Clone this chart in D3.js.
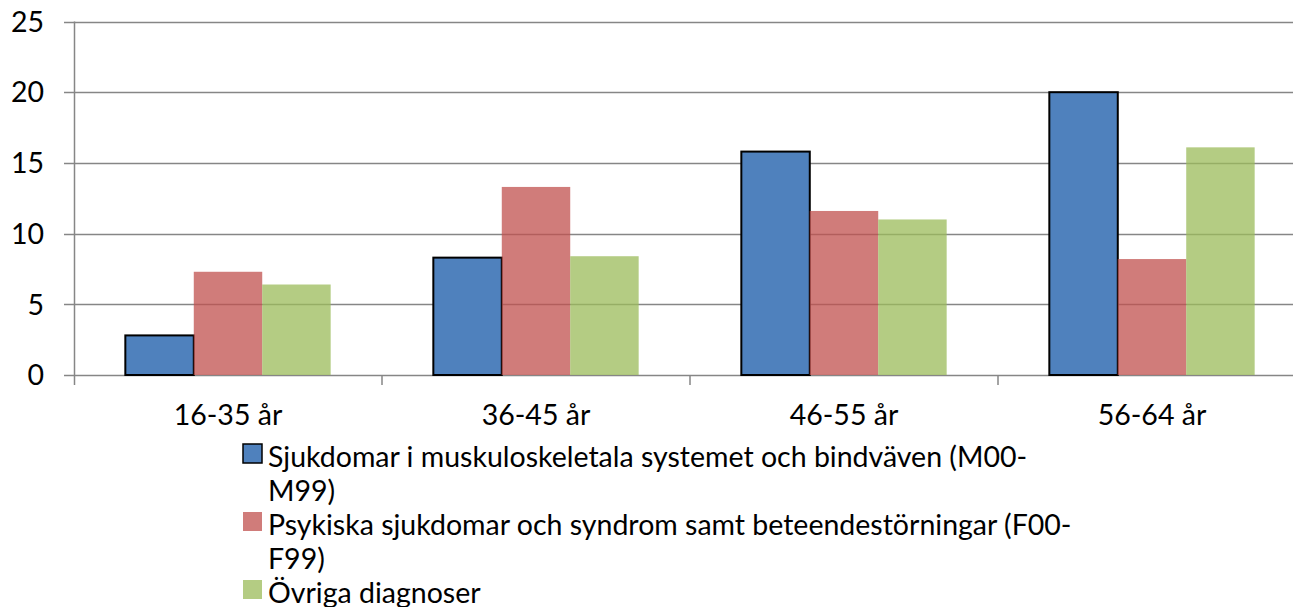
<!DOCTYPE html>
<html>
<head>
<meta charset="utf-8">
<script src="https://cdn.jsdelivr.net/npm/d3@7"></script>
<style>
    body { margin: 0; background: #fff; overflow: hidden; }
    svg text { font-family: Lato, "Open Sans", sans-serif; fill: #000; }
</style>
</head>
<body>
<div id="chart"></div>
<script>
const categories = ['16-35 år', '36-45 år', '46-55 år', '56-64 år'];
const seriesNames = [
    'Sjukdomar i muskuloskeletala systemet och bindväven (M00-M99)',
    'Psykiska sjukdomar och syndrom samt beteendestörningar (F00-F99)',
    'Övriga diagnoser'
];
const muskulo = [2.8, 8.3, 15.8, 20.0];
const psykiska = [7.3, 13.3, 11.6, 8.2];
const ovriga = [6.4, 8.4, 11.0, 16.1];
const yTicks = [0, 5, 10, 15, 20, 25];
// legend lines as they wrap in the picture
const legendLines = [
    ['Sjukdomar i muskuloskeletala systemet och bindväven (M00-', 'M99)'],
    ['Psykiska sjukdomar och syndrom samt beteendestörningar (F00-', 'F99)'],
    ['Övriga diagnoser']
];

const seriesValues = [muskulo, psykiska, ovriga];
const colors = ['#4F81BD', '#C0504D', '#9BBB59'];

const width = 1293;
const height = 607;
const plotLeft = 74;
const plotRight = 1306;   // plot runs past the window edge
const plotTop = 21.5;
const plotBottom = 375;
const fontSize = 28.5;

const svg = d3.select('#chart')
    .append('svg')
    .attr('width', width)
    .attr('height', height);

const x0 = d3.scaleBand().domain(categories).range([plotLeft, plotRight]).padding(0);
const barW = x0.bandwidth() / 4.5; // gap width 150%
const x1 = d3.scaleBand()
    .domain(d3.range(seriesValues.length))
    .range([barW * 0.75, barW * 3.75])
    .padding(0);

const y = d3.scaleLinear().domain([0, 25]).range([plotBottom, plotTop]);

// gridlines + y ticks
const grid = svg.append('g').attr('class', 'grid');
grid.selectAll('line')
    .data(yTicks)
    .enter()
    .append('line')
    .attr('x1', plotLeft - 10)
    .attr('x2', width)
    .attr('y1', d => Math.round(y(d)) + 0.5)
    .attr('y2', d => Math.round(y(d)) + 0.5)
    .attr('stroke', '#868686')
    .attr('stroke-width', 1.5);

svg.append('g')
    .selectAll('text')
    .data(yTicks)
    .enter()
    .append('text')
    .attr('x', 44)
    .attr('y', d => y(d))
    .attr('dy', '0.36em')
    .attr('text-anchor', 'end')
    .attr('font-size', fontSize)
    .text(d => d);

// bars
const groups = svg.append('g').attr('class', 'bars')
    .selectAll('g')
    .data(categories)
    .enter()
    .append('g')
    .attr('transform', d => `translate(${x0(d)},0)`);

groups.selectAll('rect')
    .data((d, i) => seriesValues.map((vals, s) => ({ s, v: vals[i] })))
    .enter()
    .append('rect')
    .attr('x', d => x1(d.s))
    .attr('width', x1.bandwidth())
    .attr('y', d => y(d.v))
    .attr('height', d => y(0) - y(d.v))
    .attr('fill', d => colors[d.s])
    .attr('fill-opacity', d => d.s === 0 ? 1 : 0.75)
    .attr('stroke', d => d.s === 0 ? '#000' : 'none')
    .attr('stroke-width', 2);

// axes lines
svg.append('line')
    .attr('x1', plotLeft + 0.5).attr('x2', plotLeft + 0.5)
    .attr('y1', plotTop).attr('y2', plotBottom + 10)
    .attr('stroke', '#868686').attr('stroke-width', 1.5);

svg.append('g')
    .selectAll('line')
    .data(categories.slice(1))
    .enter()
    .append('line')
    .attr('x1', d => x0(d))
    .attr('x2', d => x0(d))
    .attr('y1', plotBottom)
    .attr('y2', plotBottom + 10)
    .attr('stroke', '#868686')
    .attr('stroke-width', 1.5);

svg.append('g')
    .selectAll('text')
    .data(categories)
    .enter()
    .append('text')
    .attr('x', d => x0(d) + x0.bandwidth() / 2)
    .attr('y', 425)
    .attr('text-anchor', 'middle')
    .attr('font-size', fontSize)
    .text(d => d);

// legend
const legend = svg.append('g').attr('class', 'legend');
const rowH = 34;
let row = 0;
legendLines.forEach((lines, s) => {
    const base = 467 + row * rowH;
    legend.append('rect')
        .attr('x', 243)
        .attr('y', base - 23)
        .attr('width', 19)
        .attr('height', 19)
        .attr('fill', colors[s])
        .attr('fill-opacity', s === 0 ? 1 : 0.75)
        .attr('stroke', s === 0 ? '#000' : 'none')
        .attr('stroke-width', 1.5);
    lines.forEach((t, k) => {
        legend.append('text')
            .attr('x', 268)
            .attr('y', base + k * rowH)
            .attr('font-size', fontSize)
            .text(t);
    });
    row += lines.length;
});
</script>
</body>
</html>
